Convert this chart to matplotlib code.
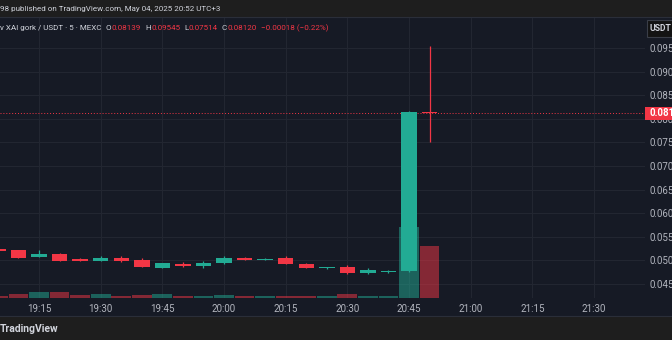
import matplotlib
matplotlib.use("Agg")
import matplotlib.pyplot as plt
from matplotlib.patches import Rectangle

plt.rcParams['font.family'] = ['Roboto', 'DejaVu Sans']

# ---------------- data ----------------
times = ["19:05", "19:10", "19:15", "19:20", "19:25", "19:30", "19:35", "19:40",
         "19:45", "19:50", "19:55", "20:00", "20:05", "20:10", "20:15", "20:20",
         "20:25", "20:30", "20:35", "20:40", "20:45", "20:50"]
opens = [0.05235, 0.05212, 0.05070, 0.05127, 0.05035, 0.04985, 0.05057, 0.05000,
         0.04837, 0.04930, 0.04880, 0.04936, 0.05049, 0.05006, 0.05057, 0.04930,
         0.04830, 0.04851, 0.04731, 0.04745, 0.04780, 0.08139]
highs = [0.05240, 0.05215, 0.05227, 0.05163, 0.05050, 0.05085, 0.05085, 0.05049,
         0.04955, 0.04964, 0.04979, 0.05091, 0.05070, 0.05045, 0.05085, 0.04950,
         0.04870, 0.04894, 0.04830, 0.04790, 0.08160, 0.09545]
lows = [0.05190, 0.05055, 0.05065, 0.04980, 0.04980, 0.04980, 0.04975, 0.04850,
        0.04830, 0.04870, 0.04837, 0.04930, 0.05000, 0.05000, 0.04918, 0.04830,
        0.04815, 0.04720, 0.04710, 0.04740, 0.04760, 0.07514]
closes = [0.05200, 0.05057, 0.05127, 0.04985, 0.04985, 0.05057, 0.04979, 0.04858,
          0.04951, 0.04873, 0.04951, 0.05057, 0.05006, 0.05035, 0.04921, 0.04845,
          0.04858, 0.04724, 0.04794, 0.04780, 0.08139, 0.08120]
volumes = [18, 32, 58, 58, 25, 35, 15, 25, 32, 15, 15, 25, 15, 15, 15, 15,
           12, 32, 12, 18, 700, 510]

time_ticks = ["19:15", "19:30", "19:45", "20:00", "20:15", "20:30", "20:45",
              "21:00", "21:15", "21:30"]
price_ticks = [0.045, 0.050, 0.055, 0.060, 0.065, 0.070, 0.075, 0.080,
               0.085, 0.090, 0.095]
last_price = 0.08120

header1 = "98 published on TradingView.com, May 04, 2025 20:52 UTC+3"
symbol = "v XAI gork / USDT \u00b7 5 \u00b7 MEXC"
ohlc_labels = ["O", "H", "L", "C"]
ohlc_values = ["0.08139", "0.09545", "0.07514", "0.08120"]
change_text = "\u22120.00018 (\u22120.22%)"


def to_min(s):
    h, m = s.split(":")
    return (int(h) - 19) * 60 + int(m)


xs = [to_min(t) for t in times]
tick_x = [to_min(t) for t in time_ticks]

# ---------------- style ----------------
BG = "#161a25"
BAND = "#1e1e1e"
GRID = "#222631"
UP = "#22ab94"
DOWN = "#f23645"
TXT = "#d1d4dc"
AXT = "#b2b5be"

W, H = 672, 340
fig = plt.figure(figsize=(W / 100, H / 100), dpi=100, facecolor=BG)


def fx(px):
    return px / W


def fy(py):
    return 1 - py / H


# bands
fig.patches.append(Rectangle((0, fy(17)), 1, 17 / H, transform=fig.transFigure,
                             facecolor=BAND, edgecolor='none', zorder=0))
fig.patches.append(Rectangle((0, 0), 1, (H - 316) / H, transform=fig.transFigure,
                             facecolor=BAND, edgecolor='none', zorder=0))
fig.lines.append(plt.Line2D([0, 1], [fy(17.2), fy(17.2)], transform=fig.transFigure,
                            color="#2a2e39", lw=0.8))
fig.lines.append(plt.Line2D([0, 1], [fy(316), fy(316)], transform=fig.transFigure,
                            color="#2a2e39", lw=0.8))

pane_top, pane_bot, pane_right = 18, 297.5, 645
pos = [0, fy(pane_bot), fx(pane_right), (pane_bot - pane_top) / H]

xmin, xmax = 5.51, 162.4
ymin, ymax = 0.04214, 0.10136

# grid axes (bottom layer, also holds tick labels)
gax = fig.add_axes(pos)
gax.set_facecolor('none')
gax.set_xlim(xmin, xmax)
gax.set_ylim(ymin, ymax)
gax.set_xticks(tick_x)
gax.set_xticklabels(time_ticks)
gax.set_yticks(price_ticks)
gax.set_yticklabels([f"{p:.4f}" for p in price_ticks])
gax.yaxis.tick_right()
gax.tick_params(axis='x', length=0, pad=4.5, labelsize=7, labelcolor=AXT)
gax.tick_params(axis='y', length=0, pad=3.6, labelsize=7, labelcolor=AXT)
for lab in gax.get_yticklabels():
    lab.set_horizontalalignment('left')
gax.grid(True, color=GRID, lw=0.8)
for s in gax.spines.values():
    s.set_visible(False)

# volume axes
vax = fig.add_axes(pos, sharex=gax)
vax.set_facecolor('none')
vax.set_ylim(0, 2790)
vcols = [UP if c >= o else DOWN for o, c in zip(opens, closes)]
vax.bar(xs, volumes, width=4.8, color=vcols, alpha=0.5, linewidth=0)
vax.axis('off')

# price axes
pax = fig.add_axes(pos, sharex=gax)
pax.set_facecolor('none')
pax.set_ylim(ymin, ymax)
pax.axis('off')
min_h = (ymax - ymin) / (pane_bot - pane_top) * 1.2
for x, o, h, l, c in zip(xs, opens, highs, lows, closes):
    col = UP if c >= o else DOWN
    pax.vlines(x, l, h, color=col, lw=0.9, zorder=2)
    b = min(o, c)
    hh = max(abs(c - o), min_h)
    pax.bar(x, hh, bottom=b, width=3.75, color=col, linewidth=0, zorder=3)
pax.axhline(last_price, color=DOWN, lw=0.7, ls=(0, (1, 2)), zorder=1)

# last price label on the price scale
ly = pax.transData.transform((0, last_price))[1]
ly_fig = ly / fig.dpi / (H / 100)
fig.patches.append(Rectangle((fx(645), ly_fig - 6.5 / H), fx(27), 13 / H,
                             transform=fig.transFigure, facecolor=DOWN,
                             edgecolor='none', zorder=5))
fig.text(fx(650), ly_fig, f"{last_price:.4f}", color="white", fontsize=7,
         fontweight='bold', va='center', ha='left', zorder=6)

# USDT box
fig.patches.append(Rectangle((fx(647), fy(37)), fx(30), 17 / H,
                             transform=fig.transFigure, facecolor="#131313",
                             edgecolor="#3a3e48", lw=0.8, zorder=5))
fig.text(fx(650), fy(28.5), "USDT", color=TXT, fontsize=6.2, fontweight='bold',
         va='center', ha='left', zorder=6)

# header texts
HFS = 5.8
fig.text(fx(0), fy(9), header1, color=TXT, fontsize=HFS, va='center', ha='left')

renderer = fig.canvas.get_renderer()


def put(xpix, s, color):
    t = fig.text(fx(xpix), fy(28), s, color=color, fontsize=HFS, va='center', ha='left')
    bb = t.get_window_extent(renderer)
    return bb.x1


cur = put(0, symbol, TXT)
for lab, val in zip(ohlc_labels, ohlc_values):
    cur = put(cur + 4, lab, TXT)
    cur = put(cur + 0.5, val, DOWN)
cur = put(cur + 4, change_text, DOWN)

# footer
fig.text(fx(0), fy(329), "TradingView", color=TXT, fontsize=7.5, fontweight='bold',
         va='center', ha='left')

fig.savefig("out.png", dpi=100, facecolor=BG)
